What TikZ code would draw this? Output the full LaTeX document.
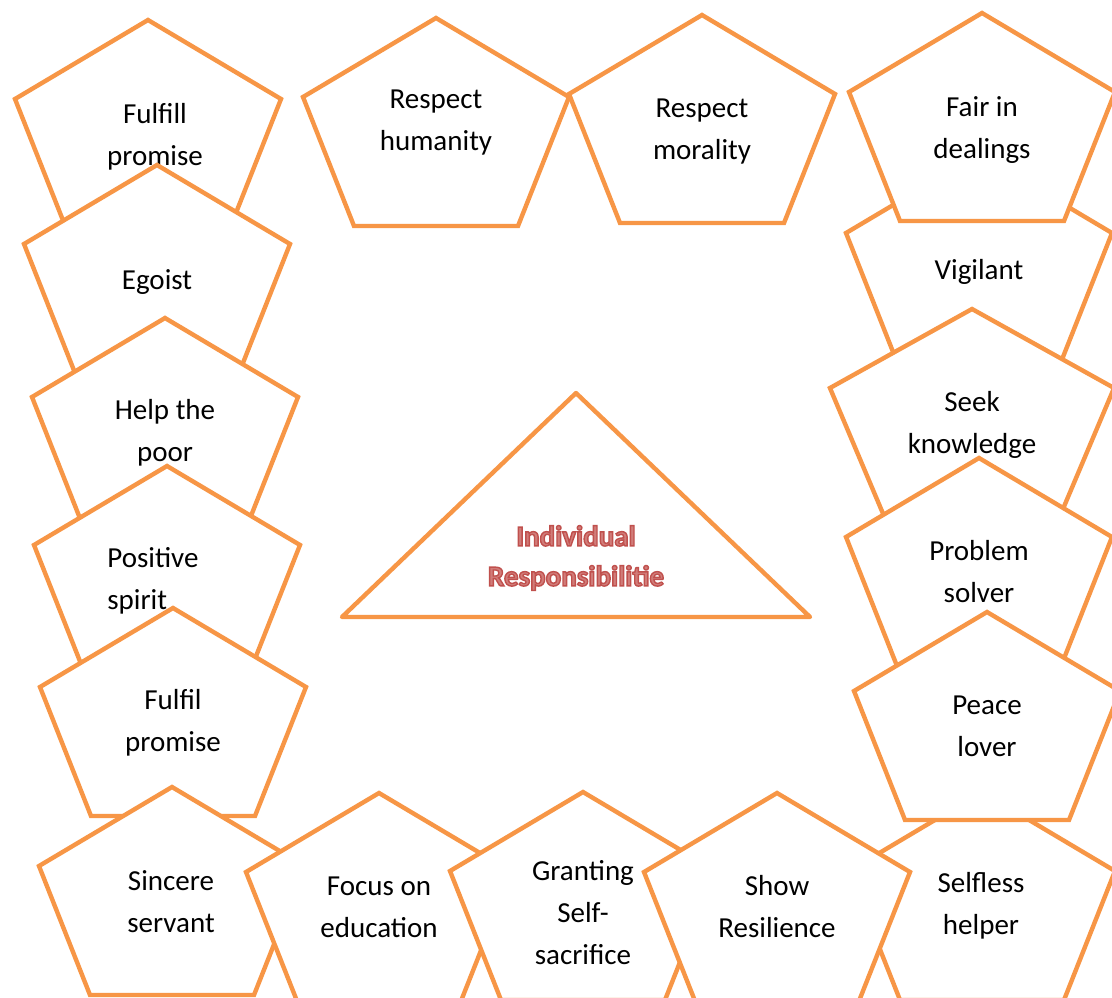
\documentclass[tikz,border=0pt]{standalone}
\usepackage{fontspec}
\setmainfont{Carlito}

\definecolor{accentorange}{HTML}{F79646}
\definecolor{accentred}{HTML}{C0504D}
\definecolor{accentredfill}{HTML}{D17C79}

\tikzset{
  pentline/.style={draw=accentorange, fill=white, line width=2.2pt},
  pentext/.style={font=\fontsize{14.5}{21}\selectfont, align=center, inner sep=0pt},
  headtext/.style={font=\fontsize{14.5}{20}\selectfont\bfseries, align=center, inner sep=0pt, text=accentredfill},
}

% pentagon from its apex, text node placed on its own
\NewDocumentCommand{\pent}{O{} m m m O{} m}{%
  \filldraw[pentline, shift={(#3)}, #1] (0,0) -- ++(133,79) -- ++(-51,129) -- ++(-164,0) -- ++(-51,-129) -- cycle;
  \node[pentext, #5] (#2) at (#4) {#6};
}
% filled and stroked letters
\newcommand{\outlined}[1]{\special{pdf:literal direct 2 Tr 0.7 w 0.753 0.314 0.302 RG}#1\special{pdf:literal direct 0 Tr}}

\begin{document}
\begin{tikzpicture}[x=0.5pt,y=-0.5pt]
  \useasboundingbox (0,0) rectangle (1112,997);
  \clip (0,0) rectangle (1112,997);

  % top row
  \pent{humanity}{436,18}{436,123}{Respect\\humanity}
  \pent{morality}{702,15}{702,132}{Respect\\morality}
  \pent{vigilant}{979,154}{979,272}{Vigilant}
  \pent{fair}{982,13}{982,130}{Fair in\\dealings}

  % left column
  \pent{fulfill}{148,20}{155,137}{Fulfill\\promise}
  \pent{egoist}{157,165}{157,282}{Egoist}
  \pent{help}{165,318}{165,433}{Help the\\poor}
  \pent{positive}{167,466}{107,581}[align=left, anchor=west]{Positive\\spirit}
  \pent{fulfil}{173,608}{173,723}{Fulfil\\promise}

  % right column
  \pent[xscale=1.068]{seek}{972,309}{972,425}{Seek\\knowledge}
  \pent{problem}{979,458}{979,572}{Problem\\solver}
  \pent{selfless}{982,792}{981,906}{Selfless\\helper}
  \pent{peace}{987,612}{987,726}{Peace\\lover}

  % bottom row
  \pent{sincere}{172,787}{171,902}{Sincere\\servant}
  \pent{focus}{379,793}{379,907}{Focus on\\education}
  \pent{granting}{583,792}{583,913}{Granting\\Self-\\sacrifice}
  \pent{resilience}{777,793}{777,907}{Show\\Resilience}

  % centre
  \draw[pentline, line join=round] (576,393) -- (810,617) -- (342,617) -- cycle;
  \node[headtext] (individual) at (576,558) {\outlined{Individual\\Responsibilitie}};
\end{tikzpicture}
\end{document}
